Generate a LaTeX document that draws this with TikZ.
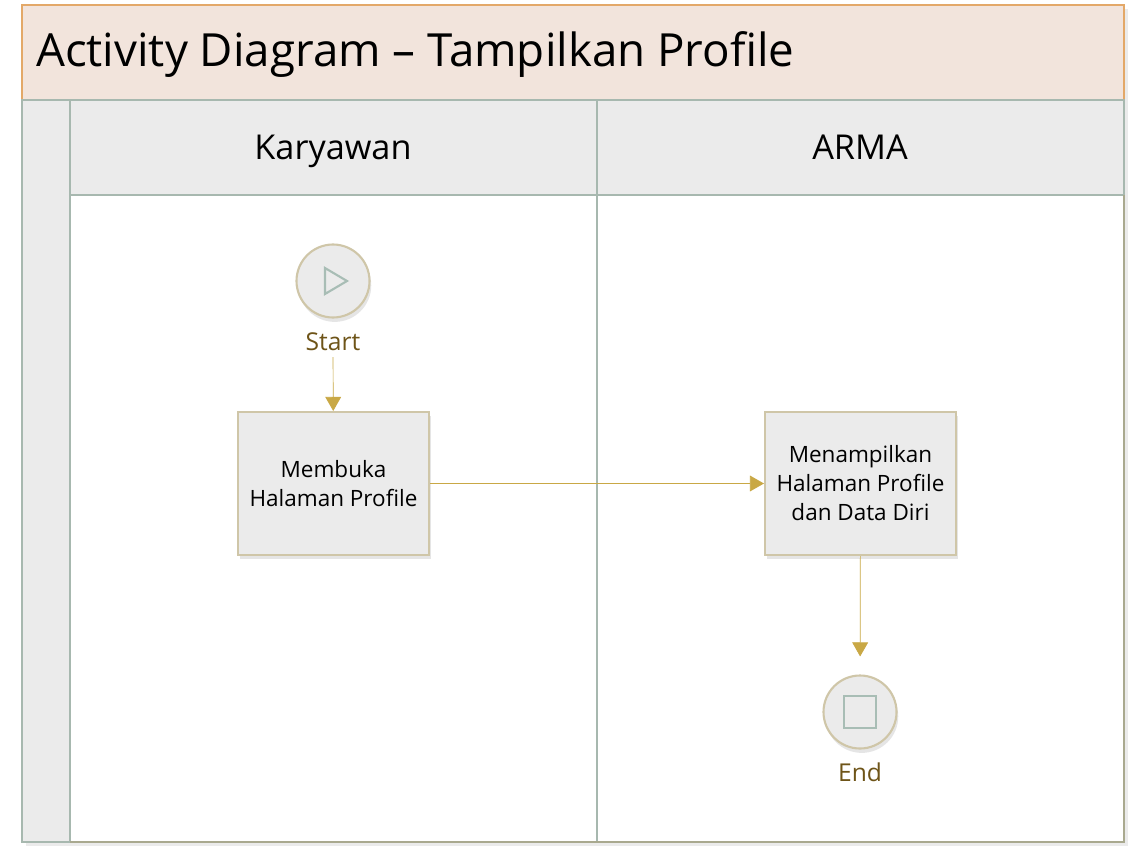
\documentclass[tikz,border=0pt]{standalone}
\usepackage{fontspec}
\setmainfont{Open Sans}
\usetikzlibrary{arrows.meta,shadows,calc}

\definecolor{titlefill}{HTML}{F2E4DC}
\definecolor{titleline}{HTML}{E3A868}
\definecolor{lanefill}{HTML}{EBEBEB}
\definecolor{laneline}{HTML}{A7B8AF}
\definecolor{boxline}{HTML}{CFC6A8}
\definecolor{flowline}{HTML}{C9A845}
\definecolor{labeltext}{HTML}{6E5418}
\definecolor{iconline}{HTML}{A8BDB5}
\definecolor{frameline}{HTML}{A9A98F}

\tikzset{
  activity/.style={draw=boxline, line width=1.2pt, fill=lanefill, minimum width=191*0.02cm,
    minimum height=143*0.02cm, align=center, font=\fontsize{12.8}{16.5}\selectfont,
    drop shadow={opacity=0.2, shadow xshift=1pt, shadow yshift=-2.5pt}},
  event/.style={circle, draw=boxline, line width=1.2pt, fill=lanefill, minimum size=73*0.02cm,
    drop shadow={opacity=0.2, shadow xshift=1pt, shadow yshift=-2.5pt}},
  evlabel/.style={text=labeltext, font=\fontsize{14}{16}\selectfont},
  flow/.style={draw=flowline, -{Triangle[length=8pt,width=9pt]}},
  lanehead/.style={anchor=base, font=\fontsize{19.5}{22}\selectfont}
}

\begin{document}
\begin{tikzpicture}[x=0.02cm, y=-0.02cm]
\useasboundingbox (0,0) rectangle (1135,858);
 \coordinate (tl) at (22,5);
 \coordinate (br) at (1124,842);
  \fill[black!8] (26,9) rectangle (1128,846);
  \fill[white] (tl) rectangle (br);
  \draw[fill=titlefill, draw=titleline, line width=1pt] (22,5) rectangle (1124,100);
   \draw[fill=lanefill, draw=laneline, line width=1pt] (22,100) rectangle (70,842);
   \draw[fill=lanefill, draw=laneline, line width=1pt] (70,100) rectangle (1124,195);
\draw[laneline, line width=1pt] (597,100) -- (597,842);
\draw[frameline, line width=1.6pt] (70,842) -- (br) -- (1124,195);
\node[anchor=base west, font=\fontsize{26}{30}\selectfont] (title) at (30,67) {Activity Diagram -- Tampilkan Profile};
\node[lanehead] (karyawan) at (333,160) {Karyawan};
\node[lanehead] (arma) at (860,160) {ARMA};

\node[event] (start) at (333,281) {};
\draw[iconline, line width=1.2pt] ($(start)+(-8,-13)$) -- ++(0,26) -- ++(22,-13) -- cycle;
\node[evlabel] (startlbl) at (333,342) {Start};

\node[activity] (buka) at (333.5,483.5) {Membuka\\Halaman Profile};
\node[activity] (tampil) at (860.5,483.5) {Menampilkan\\Halaman Profile\\dan Data Diri};

\node[event] (end) at (860,712) {};
\draw[iconline, line width=1.2pt] ($(end)+(-16,-16)$) rectangle ($(end)+(16,16)$);
\node[evlabel] (endlbl) at (860,772) {End};

\draw[flow] (startlbl) -- (buka);
\draw[flow] (buka) -- (tampil);
\draw[flow, shorten >=18*0.02cm] (tampil) -- (end);
\end{tikzpicture}
\end{document}
